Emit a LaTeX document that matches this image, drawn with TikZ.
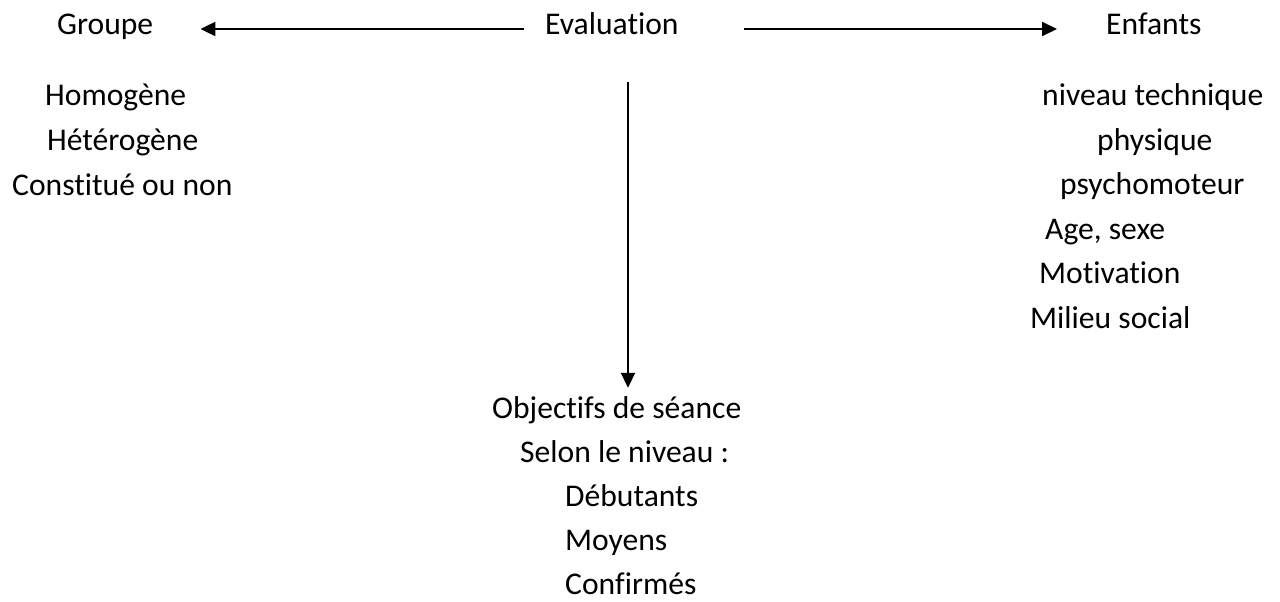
\documentclass[tikz,border=0pt]{standalone}
\usepackage{fontspec}
\setmainfont{Carlito}[Ligatures=NoCommon]
\usetikzlibrary{arrows.meta}
\begin{document}
\begin{tikzpicture}[x=1pt,y=-1pt,
    txt/.style={inner sep=0pt,anchor=base west,text height=20pt,text depth=8pt,
      font=\fontsize{31.6pt}{44.6pt}\selectfont},
    fleche/.style={line width=2pt,-{Triangle[length=15pt,width=14pt]}}]
       \useasboundingbox (0,0) rectangle (1280,602);
       \node at (57,35) [txt] (groupe) {Groupe};
       \node at (545,35) [txt] (eval) {Evaluation};
       \node at (1106,35) [txt] (enfants) {Enfants};
       \node at (45,105) [txt] (homo) {Homogène};
       \node at (47,150) [txt] (hetero) {Hétérogène};
       \node at (12,195) [txt] (constit) {Constitué ou non};
       \node at (1042,105) [txt] (niveau) {niveau technique};
       \node at (1097,150) [txt] (physique) {physique};
       \node at (1060,194) [txt] (psycho) {psychomoteur};
       \node at (1045,239) [txt] (age) {Age, sexe};
       \node at (1039,283) [txt] (motiv) {Motivation};
       \node at (1030,328) [txt] (milieu) {Milieu social};
       \node at (492,418) [txt] (objectifs) {Objectifs de séance};
       \node at (520,462) [txt] (selon) {Selon le niveau :};
       \node at (565,506) [txt] (debut) {Débutants};
       \node at (565,550) [txt] (moyens) {Moyens};
       \node at (565,594) [txt,text depth=0pt] (confirm) {Confirmés};
       \coordinate (haut) at (628,82);
       \draw [fleche,shorten <=21pt,shorten >=47pt] (eval) -- (groupe);
       \draw [fleche,shorten <=65pt,shorten >=49pt] (eval) -- (enfants);
       \draw [fleche,shorten >=10pt] (haut) -- (haut |- objectifs.north);
\end{tikzpicture}
\end{document}
